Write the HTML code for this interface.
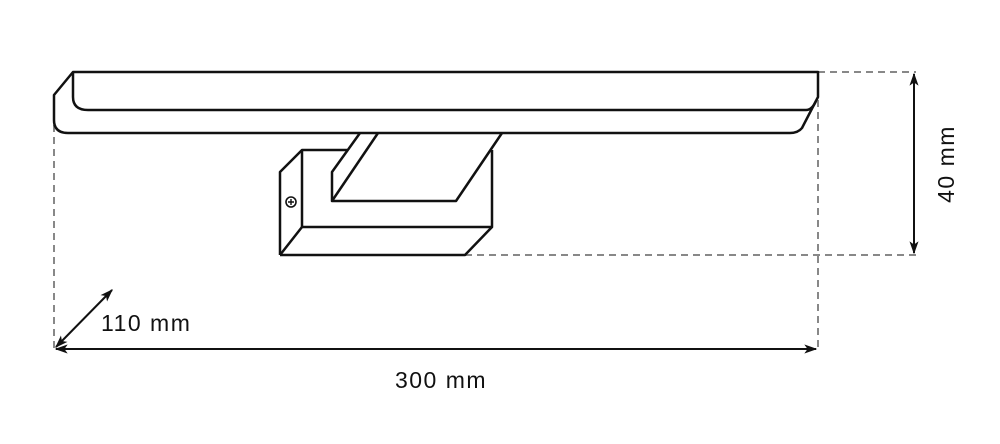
<!DOCTYPE html>
<html><head><style>body{margin:0;background:#fff}svg{display:block}</style></head><body>
<svg width="1000" height="444" viewBox="0 0 1000 444" xmlns="http://www.w3.org/2000/svg">
<defs>
<marker id="a" viewBox="0 0 10 10" refX="9" refY="5" markerWidth="13" markerHeight="13" orient="auto-start-reverse" markerUnits="userSpaceOnUse"><path d="M0,1.5 L10,5 L0,8.5 L2.5,5 z" fill="#111"/></marker>
</defs>
<g fill="none" stroke="#888" stroke-width="2" stroke-dasharray="7,5">
<line x1="54" y1="125" x2="54" y2="350"/>
<line x1="818" y1="100" x2="818" y2="350"/>
<line x1="818" y1="72" x2="916" y2="72"/>
<line x1="465" y1="255" x2="916" y2="255"/>
</g>
<g fill="none" stroke="#111" stroke-width="2.5" stroke-linejoin="round">
<path d="M73,72 L818,72 L818,97 L802,128 Q798,133 790,133 L68,133 Q54,133 54,120 L54,95 Z"/>
<path d="M73,72 L73,97 Q73,110 88,110 L806,110 Q812,110 816,101"/>
<path d="M280,255 L280,172 L302,150 L347,150"/>
<path d="M302,150 L302,227 L492,227 L492,150"/>
<path d="M280,255 L302,227"/>
<path d="M280,255 L465,255 L492,227"/>
<path d="M360,133 L332,172 L332,201 L456,201 L502,133"/>
<path d="M378,133 L332,201"/>
<circle cx="291" cy="202" r="5" stroke-width="1.6"/>
<path d="M288,202 h6 M291,199 v6" stroke-width="1.4"/>
</g>
<g stroke="#111" stroke-width="2">
<line x1="914" y1="74" x2="914" y2="253" marker-start="url(#a)" marker-end="url(#a)"/>
<line x1="56" y1="349" x2="816" y2="349" marker-start="url(#a)" marker-end="url(#a)"/>
<line x1="56" y1="347" x2="112" y2="290" marker-start="url(#a)" marker-end="url(#a)"/>
</g>
<g font-family="Liberation Sans, sans-serif" font-size="23" fill="#111" letter-spacing="1.5">
<text x="101" y="331">110 mm</text>
<text x="441" y="388" text-anchor="middle">300 mm</text>
<text transform="translate(954,164) rotate(-90)" text-anchor="middle">40 mm</text>
</g>
</svg>
</body></html>
